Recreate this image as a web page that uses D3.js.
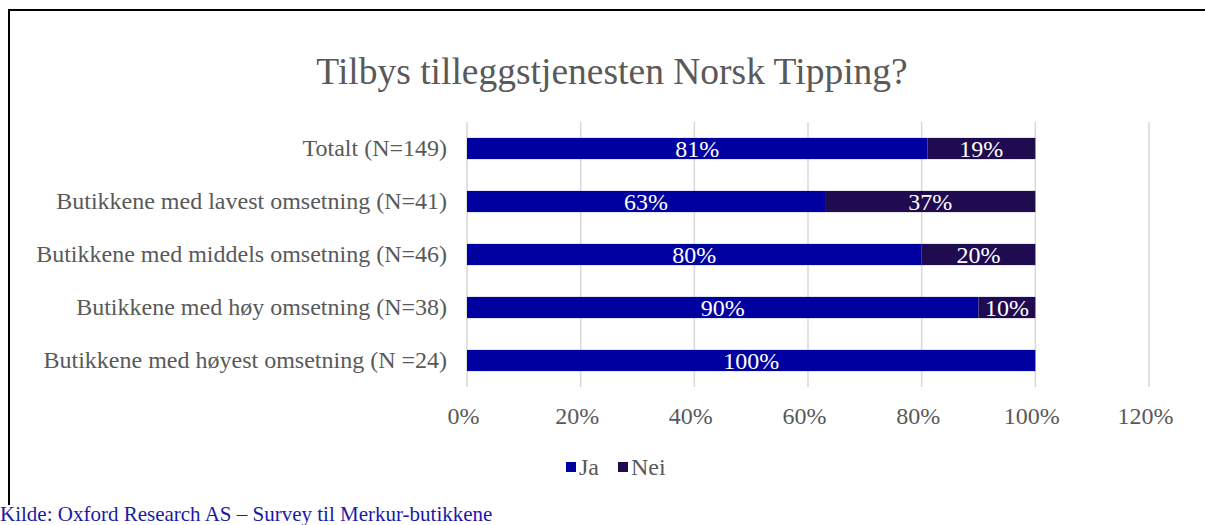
<!DOCTYPE html>
<html><head><meta charset="utf-8">
<script src="https://cdn.jsdelivr.net/npm/d3@7"></script>
<style>body{margin:0;background:#fff}svg{display:block}</style>
</head><body>
<script>
const categories = [
  "Totalt (N=149)",
  "Butikkene med lavest omsetning (N=41)",
  "Butikkene med middels omsetning (N=46)",
  "Butikkene med høy omsetning  (N=38)",
  "Butikkene med høyest omsetning (N =24)"
];
const jaValues = [81, 63, 80, 90, 100];
const neiValues = [19, 37, 20, 10, 0];
const seriesNames = ["Ja", "Nei"];
const tickValues = [0, 20, 40, 60, 80, 100, 120];
const title = "Tilbys tilleggstjenesten Norsk Tipping?";
const source = "Kilde: Oxford Research AS – Survey til Merkur-butikkene";

const W = 1205, H = 525;
const colors = {Ja: "#0000A0", Nei: "#1E0B50"};
const font = "'Liberation Serif', 'Times New Roman', serif";
const grey = "#595959";

const svg = d3.select("body").append("svg").attr("width", W).attr("height", H);

// frame
svg.append("path").attr("d", `M9,505 V10 H${W+5}`).attr("fill","none").attr("stroke","#000").attr("stroke-width",2);

svg.append("text").attr("x", 612).attr("y", 84).attr("text-anchor","middle")
  .attr("font-family", font).attr("font-size", 37.5).attr("fill", grey).text(title);

const x = d3.scaleLinear().domain([0,120]).range([467,1149]);
const y = d3.scaleBand().domain(categories).range([122,387]).paddingInner(0.6).paddingOuter(0.3);

// gridlines
svg.append("g").selectAll("line").data(tickValues).join("line")
  .attr("x1", d=>x(d)).attr("x2", d=>x(d)).attr("y1",122).attr("y2",387)
  .attr("stroke","#d9d9d9").attr("stroke-width",1.5);

// x axis labels
const xAxis = d3.axisBottom(x).tickValues(tickValues).tickFormat(d=>d+"%").tickSize(0).tickPadding(0);
const gx = svg.append("g").attr("transform","translate(-4,416)").call(xAxis);
gx.select(".domain").remove();
gx.selectAll("text").attr("font-family",font).attr("font-size",24).attr("fill",grey).attr("dy","0.35em");

// y axis labels
const yAxis = d3.axisLeft(y).tickSize(0).tickPadding(0);
const gy = svg.append("g").attr("transform","translate(447,0)").call(yAxis);
gy.select(".domain").remove();
gy.selectAll("text").attr("font-family",font).attr("font-size",24).attr("fill",grey);

const rows = categories.map((c,i)=>({cat:c, Ja:jaValues[i], Nei:neiValues[i]}));
const stacked = d3.stack().keys(seriesNames)(rows);

stacked.forEach(s=>{
  const g = svg.append("g");
  g.selectAll("rect").data(s).join("rect")
    .attr("x", d=>x(d[0])).attr("width", d=>x(d[1])-x(d[0]))
    .attr("y", d=>y(d.data.cat)).attr("height", y.bandwidth())
    .attr("fill", colors[s.key]);
  g.selectAll("text").data(s.filter(d=>d[1]-d[0]>0)).join("text")
    .attr("x", d=>(x(d[0])+x(d[1]))/2).attr("y", d=>y(d.data.cat)+y.bandwidth()/2)
    .attr("dy","0.35em").attr("text-anchor","middle")
    .attr("font-family",font).attr("font-size",24).attr("fill","#fff")
    .text(d=>(d[1]-d[0])+"%");
});

// legend
const leg = svg.append("g").attr("transform","translate(566,467)");
let lx = 0;
seriesNames.forEach(n=>{
  leg.append("rect").attr("x",lx).attr("y",-5).attr("width",10).attr("height",10).attr("fill",colors[n]);
  const t = leg.append("text").attr("x",lx+13).attr("y",0).attr("dy","0.35em")
    .attr("font-family",font).attr("font-size",24).attr("fill",grey).text(n);
  lx += 13 + t.node().getComputedTextLength() + 19;
});

svg.append("text").attr("x",0).attr("y",521).attr("font-family",font).attr("font-size",21)
  .attr("fill","#1a1aa6").text(source);
</script>
</body></html>
